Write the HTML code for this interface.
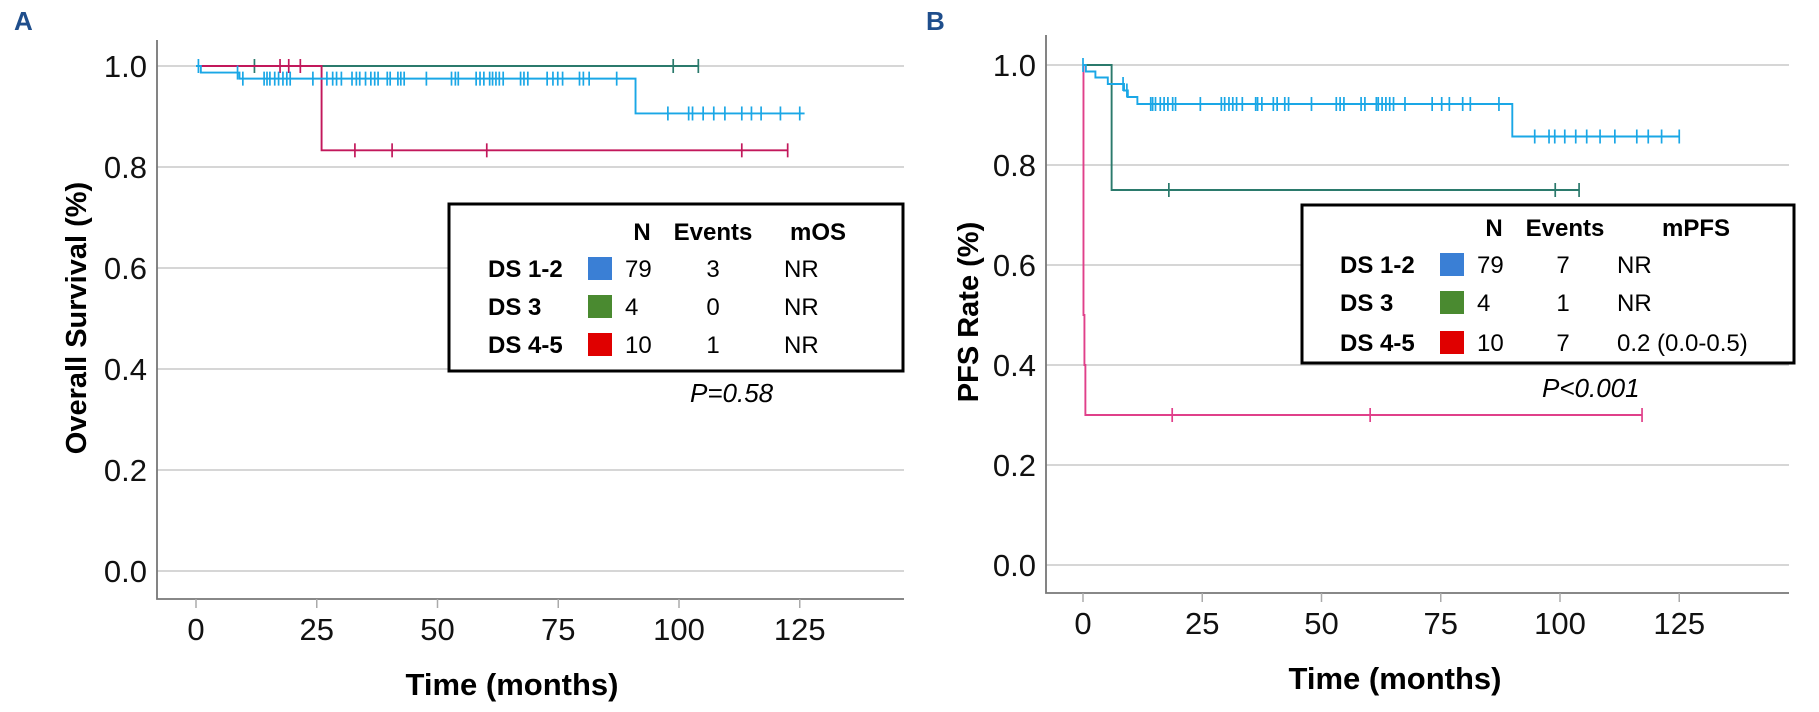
<!DOCTYPE html>
<html><head><meta charset="utf-8"><style>
html,body{margin:0;padding:0;background:#fff;}
svg{display:block;font-family:"Liberation Sans",sans-serif;}
</style></head><body>
<svg id="fig" width="1819" height="712" viewBox="0 0 1819 712" xmlns="http://www.w3.org/2000/svg">
<text x="14" y="30" font-size="26" font-weight="bold" fill="#1f4e8c">A</text>
<text x="926" y="30" font-size="26" font-weight="bold" fill="#1f4e8c">B</text>
<g id="pa"></g>
<g id="pb"></g>
<g id="lga" font-size="24">
<rect x="449" y="204" width="454" height="167" fill="#fff" stroke="#000" stroke-width="3"/>
<text x="642" y="240" font-weight="bold" text-anchor="middle">N</text>
<text x="713" y="240" font-weight="bold" text-anchor="middle">Events</text>
<text x="818" y="240" font-weight="bold" text-anchor="middle">mOS</text>
<text x="488" y="277" font-weight="bold">DS 1-2</text>
<rect x="588" y="257" width="24" height="23" fill="#3a7fd5"/>
<text x="625" y="277">79</text>
<text x="713" y="277" text-anchor="middle">3</text>
<text x="784" y="277">NR</text>
<text x="488" y="315" font-weight="bold">DS 3</text>
<rect x="588" y="295" width="24" height="23" fill="#4a8a30"/>
<text x="625" y="315">4</text>
<text x="713" y="315" text-anchor="middle">0</text>
<text x="784" y="315">NR</text>
<text x="488" y="353" font-weight="bold">DS 4-5</text>
<rect x="588" y="333" width="24" height="23" fill="#e00000"/>
<text x="625" y="353">10</text>
<text x="713" y="353" text-anchor="middle">1</text>
<text x="784" y="353">NR</text>
</g>
<text x="690" y="402" font-size="26" font-style="italic">P=0.58</text>
<g id="lgb" font-size="24">
<rect x="1302" y="205" width="492" height="158" fill="#fff" stroke="#000" stroke-width="3"/>
<text x="1494" y="236" font-weight="bold" text-anchor="middle">N</text>
<text x="1565" y="236" font-weight="bold" text-anchor="middle">Events</text>
<text x="1696" y="236" font-weight="bold" text-anchor="middle">mPFS</text>
<text x="1340" y="273" font-weight="bold">DS 1-2</text>
<rect x="1440" y="253" width="24" height="23" fill="#3a7fd5"/>
<text x="1477" y="273">79</text>
<text x="1563" y="273" text-anchor="middle">7</text>
<text x="1617" y="273">NR</text>
<text x="1340" y="311" font-weight="bold">DS 3</text>
<rect x="1440" y="291" width="24" height="23" fill="#4a8a30"/>
<text x="1477" y="311">4</text>
<text x="1563" y="311" text-anchor="middle">1</text>
<text x="1617" y="311">NR</text>
<text x="1340" y="351" font-weight="bold">DS 4-5</text>
<rect x="1440" y="331" width="24" height="23" fill="#e00000"/>
<text x="1477" y="351">10</text>
<text x="1563" y="351" text-anchor="middle">7</text>
<text x="1617" y="351">0.2 (0.0-0.5)</text>
</g>
<text x="1542" y="397" font-size="26" font-style="italic">P&lt;0.001</text>
</svg>
<script>
var yTicks = [0.0, 0.2, 0.4, 0.6, 0.8, 1.0];
var xTicks = [0, 25, 50, 75, 100, 125];
var aBlueSteps = [[0,1],[1,0.987],[9,0.975],[91,0.906]];
var aBlueEnd = 126;
var aBlueCens = [0.5,8.6,9.7,14.1,14.7,15.3,16.3,17.1,18,18.8,19.5,24.2,27.1,28.3,29.1,30.1,32.3,33.2,33.9,35.1,36.2,37,37.7,39.6,40.2,41.8,42.4,43.1,47.7,52.9,53.7,54.3,58,58.8,59.6,60.8,61.4,62.1,62.8,63.6,67.2,67.9,68.7,72.7,73.9,74.9,75.9,79.4,80.2,81.4,87.1,97.7,102,102.8,105,107.2,109.5,113,115,117,121,125];
var aGreenSteps = [[0,1]];
var aGreenEnd = 104;
var aGreenCens = [12.1,98.8,104];
var aPinkSteps = [[0,1],[26,0.833]];
var aPinkEnd = 122.5;
var aPinkCens = [17.4,19.2,21.6,32.9,40.6,60.2,113,122.5];
var bBlueSteps = [[0,1],[0.6,0.987],[2.6,0.975],[5.2,0.962],[8.6,0.949],[9.4,0.936],[11.4,0.922],[90,0.857]];
var bBlueEnd = 125;
var bBlueCens = [0,8.4,9.2,14.2,14.6,15.2,16.2,17,17.8,18.8,19.4,24.6,29,29.7,30.6,31.4,32.2,33.4,36.2,36.6,37.5,39.9,40.7,42.3,43.1,47.9,53.1,53.9,54.7,58.3,59.1,61.5,61.9,62.7,63.5,64.3,65.1,67.5,73.2,75.2,76.8,79.6,81.2,87.2,94.7,97.7,98.9,101,103.3,105.6,108.4,111.5,116.1,118.5,121.3,125];
var bGreenSteps = [[0,1],[6,0.75]];
var bGreenEnd = 104;
var bGreenCens = [18,99,104];
var bPinkSteps = [[0,1],[0.1,0.5],[0.3,0.4],[0.5,0.3]];
var bPinkEnd = 117.2;
var bPinkCens = [18.7,60.2,117.2];

var NS = "http://www.w3.org/2000/svg";
function el(tag, attrs, parent){ var e=document.createElementNS(NS,tag); for(var k in attrs) e.setAttribute(k,attrs[k]); parent.appendChild(e); return e; }

function panel(g, cfg){
  var xs=function(t){return cfg.x0 + t*cfg.px;};
  var ys=function(v){return cfg.y0 - v*cfg.py;};
  yTicks.forEach(function(v){
    var l=el('line',{x1:cfg.left,x2:cfg.right,y1:ys(v),y2:ys(v),stroke:'#c8c8c8','stroke-width':1.5},g);
    
    
    var t=el('text',{x:cfg.left-10,y:ys(v)+11,'font-size':31,'text-anchor':'end',fill:'#111'},g);
    t.textContent=v.toFixed(1);
    
    
  });
  var ax=el('path',{d:'M'+cfg.left+' '+(cfg.top)+' V'+cfg.bottom+' H'+cfg.right,fill:'none',stroke:'#777','stroke-width':1.8},g);
  
  
  xTicks.forEach(function(v){
    var tk=el('line',{x1:xs(v),x2:xs(v),y1:cfg.bottom,y2:cfg.bottom+9,stroke:'#aaa','stroke-width':1.5},g);
    
    
    var t=el('text',{x:xs(v),y:cfg.bottom+41,'font-size':31,'text-anchor':'middle',fill:'#111'},g);
    t.textContent=v;
    
    
  });
  var xt=el('text',{x:cfg.xTitleX,y:cfg.bottom+96,'font-size':31,'font-weight':'bold','text-anchor':'middle'},g);
  xt.textContent='Time (months)';
  
  
  var yt=el('text',{transform:'translate('+cfg.yTitleX+','+cfg.yTitleY+') rotate(-90)','font-size':29,'font-weight':'bold','text-anchor':'middle'},g);
  yt.textContent=cfg.yTitle;
  
  
  cfg.series.forEach(function(s){
    var st=s.steps, d='M'+xs(st[0][0])+' '+ys(st[0][1]);
    for(var i=1;i<st.length;i++){ d+=' H'+xs(st[i][0])+' V'+ys(st[i][1]); }
    d+=' H'+xs(s.end);
    var p=el('path',{d:d,fill:'none',stroke:s.color,'stroke-width':1.9},g);
    
    
    s.cens.forEach(function(t){
      var v=st[0][1];
      for(var i=0;i<st.length;i++){ if(st[i][0]<=t) v=st[i][1]; }
      var c=el('line',{x1:xs(t),x2:xs(t),y1:ys(v)-7,y2:ys(v)+7,stroke:s.color,'stroke-width':1.7},g);
      
      
    });
  });
}
panel(document.getElementById('pa'),{x0:196,px:4.83,y0:571,py:505,left:157,right:904,top:40,bottom:599,xTitleX:512,yTitleX:86,yTitleY:318,yTitle:'Overall Survival (%)',
  series:[{name:'ds3',color:'#2b7a6c',steps:aGreenSteps,end:aGreenEnd,cens:aGreenCens},
          {name:'ds45',color:'#c2185b',steps:aPinkSteps,end:aPinkEnd,cens:aPinkCens},
          {name:'ds12',color:'#1aa7e6',steps:aBlueSteps,end:aBlueEnd,cens:aBlueCens}]});
panel(document.getElementById('pb'),{x0:1083,px:4.77,y0:565,py:500,left:1046,right:1789,top:35,bottom:593,xTitleX:1395,yTitleX:978,yTitleY:312,yTitle:'PFS Rate (%)',
  series:[{name:'ds3',color:'#2b7a6c',steps:bGreenSteps,end:bGreenEnd,cens:bGreenCens},
          {name:'ds45',color:'#e0408a',steps:bPinkSteps,end:bPinkEnd,cens:bPinkCens},
          {name:'ds12',color:'#1aa7e6',steps:bBlueSteps,end:bBlueEnd,cens:bBlueCens}]});
var svg=document.getElementById('fig');
svg.appendChild(document.getElementById('lga'));
svg.appendChild(document.getElementById('lgb'));
</script>
</body></html>
